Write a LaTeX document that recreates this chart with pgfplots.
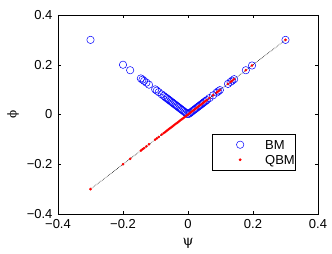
\documentclass[border=0pt]{standalone}
\usepackage{fontspec}
\setmainfont{Liberation Sans}
\newfontfamily\gk{DejaVu Serif}
\usepackage{pgfplots}
\usepackage{pgfplotstable}
\pgfplotsset{compat=1.18}
\usetikzlibrary{calc}

\pgfplotstableread{
psi bm qbm
-0.300 0.300 -0.300
-0.200 0.200 -0.200
-0.178 0.178 -0.178
-0.145 0.145 -0.145
-0.140 0.140 -0.140
-0.135 0.135 -0.135
-0.128 0.128 -0.128
-0.120 0.120 -0.120
-0.101 0.101 -0.101
-0.096 0.096 -0.096
-0.090 0.090 -0.090
-0.081 0.081 -0.081
-0.075 0.075 -0.075
-0.070 0.070 -0.070
-0.066 0.066 -0.066
-0.062 0.062 -0.062
-0.058 0.058 -0.058
-0.054 0.054 -0.054
-0.050 0.050 -0.050
-0.046 0.046 -0.046
-0.042 0.042 -0.042
-0.038 0.038 -0.038
-0.034 0.034 -0.034
-0.030 0.030 -0.030
-0.026 0.026 -0.026
-0.022 0.022 -0.022
-0.018 0.018 -0.018
-0.014 0.014 -0.014
-0.010 0.010 -0.010
-0.006 0.006 -0.006
-0.002 0.002 -0.002
0.002 0.002 0.002
0.006 0.006 0.006
0.010 0.010 0.010
0.014 0.014 0.014
0.018 0.018 0.018
0.022 0.022 0.022
0.026 0.026 0.026
0.030 0.030 0.030
0.034 0.034 0.034
0.038 0.038 0.038
0.042 0.042 0.042
0.046 0.046 0.046
0.050 0.050 0.050
0.054 0.054 0.054
0.058 0.058 0.058
0.066 0.066 0.066
0.077 0.077 0.077
0.088 0.088 0.088
0.093 0.093 0.093
0.098 0.098 0.098
0.123 0.123 0.123
0.131 0.131 0.131
0.136 0.136 0.136
0.142 0.142 0.142
0.178 0.178 0.178
0.197 0.197 0.197
0.300 0.300 0.300
}\datatable

\pgfplotstableread{
x y
-0.3 -0.3
0.3 0.3
}\refline

\begin{document}
\fontsize{13}{15}\selectfont
\begin{tikzpicture}
\begin{axis}[
  scale only axis,
  width=260pt, height=199pt,
  xmin=-0.4, xmax=0.4, ymin=-0.4, ymax=0.4,
  xtick={-0.4,-0.2,0,0.2,0.4},
  ytick={-0.4,-0.2,0,0.2,0.4},
  xticklabels={−0.4,−0.2,0,0.2,0.4},
  yticklabels={−0.4,−0.2,0,0.2,0.4},
  tick align=inside,
  major tick length=3pt,
  tick style={black, line width=0.4pt},
  axis line style={black, line width=0.5pt},
  ticklabel style={font=\fontsize{13}{15}\selectfont},
  xticklabel style={yshift=-1pt},
  yticklabel style={xshift=-1pt},
  xlabel={\gk ψ},
  xlabel style={font=\fontsize{14}{16}\selectfont, at={(axis description cs:0.5,-0.145)}, anchor=center},
  legend style={
    at={(rel axis cs:0.592,0.402)}, anchor=north west,
    draw=black, line width=0.5pt,
    font=\fontsize{13}{15}\selectfont,
    row sep=4pt, inner xsep=0pt, inner ysep=5pt,
    nodes={inner xsep=0pt, inner ysep=1pt, text depth=0pt},
  },
  legend cell align=left,
  legend image code/.code={\path[draw=none,fill=none] (0pt,0pt) -- (53pt,0pt); \draw[#1] plot coordinates {(28pt,0pt)};},
]
\addplot[only marks, mark=o, mark size=3.7pt, draw=blue, mark options={line width=0.5pt}] table[x=psi, y=bm] {\datatable};
\addlegendentry{BM}
\addplot[black, densely dotted, line width=0.6pt, forget plot] table[x=x, y=y] {\refline};
\addplot[only marks, mark=*, mark size=1.1pt, color=red, mark options={draw=red, fill=red}] table[x=psi, y=qbm] {\datatable};
\addlegendentry{QBM\hspace{11pt}}
\end{axis}
\node[rotate=90, font=\fontsize{12}{14}\selectfont, inner sep=0pt] at ($(current axis.west)+(-45pt,0pt)$) {\gk ϕ};
\pgfresetboundingbox
\path ($(current axis.south west)+(-58pt,-40pt)$) rectangle ($(current axis.north east)+(14pt,15pt)$);
\end{tikzpicture}
\end{document}
